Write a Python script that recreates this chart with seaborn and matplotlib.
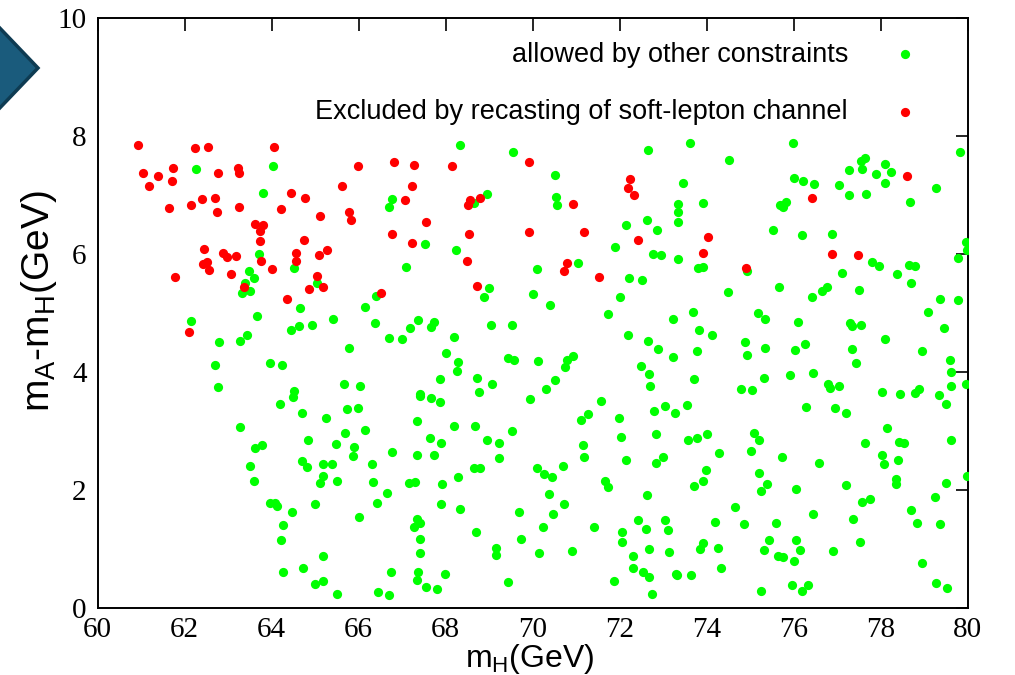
import matplotlib
matplotlib.use("Agg")
import matplotlib.pyplot as plt
import seaborn as sns
import pandas as pd
from matplotlib.patches import Polygon

# ---------------- data ----------------
allowed_mH = [
    62.25, 64.04, 63.81, 63.70, 63.47, 63.60, 63.38, 63.31, 63.50, 64.51, 65.03, 66.40,
    68.32, 69.54, 72.66, 70.51, 70.54, 70.56, 68.94, 68.66, 66.76, 66.70, 67.52, 68.24, 67.09, 70.11,
    71.03, 71.89, 72.14, 72.62, 72.86, 72.22, 72.51, 72.76, 72.96, 73.35, 73.35, 73.33, 73.33, 68.99,
    68.87, 70.01, 72.00,
    73.62, 75.98, 74.52, 79.82, 77.65, 77.55, 77.26, 77.58, 78.11, 78.24, 77.90, 78.10, 77.03, 77.26,
    77.66, 76.00, 76.22, 76.47, 73.46, 73.92, 75.68, 75.82, 75.76, 79.26, 78.67, 75.53, 76.20, 76.88,
    79.95, 79.98, 79.78, 73.81, 73.91, 77.81, 77.95, 77.12, 78.38, 78.66, 78.79, 78.70, 75.66, 74.50,
    76.66, 76.77, 77.50, 76.41, 79.36, 79.78, 74.92,
    62.15, 62.80, 63.27, 63.43, 63.67, 64.66, 64.45, 64.62, 64.93, 65.41, 66.15, 66.37, 65.78, 62.70,
    63.95, 64.24, 62.76, 64.51, 64.49, 64.19, 64.70, 65.25, 65.66, 66.03, 65.74, 65.98, 66.15, 65.69,
    63.27, 64.83, 65.47, 65.89, 63.61, 63.77,
    65.88, 63.49, 63.60, 64.69, 64.81, 65.17, 65.39, 65.19, 65.11, 65.49, 66.31, 66.33, 66.64, 66.41,
    63.96, 64.08, 64.13, 64.47, 64.99, 66.01, 64.27, 64.21, 65.17, 64.27, 64.71, 64.99, 65.19, 65.50,
    66.45,
    70.40, 66.70, 66.99, 67.17, 67.36, 67.74, 67.66, 68.18, 69.05, 69.53, 71.72, 73.22, 72.18, 72.64,
    72.88, 73.23, 68.01, 68.28, 68.25, 67.88, 68.71, 69.07, 68.76, 69.44, 69.56, 70.13, 70.92, 70.80,
    70.75, 70.51, 70.30, 69.93, 72.50, 72.68, 72.70, 71.58, 71.27, 71.10, 71.98, 72.78, 73.04, 73.28,
    72.04, 72.84, 71.16, 67.42, 67.41, 67.66, 67.86, 67.33, 68.20, 68.67, 69.53, 67.63, 67.90, 68.96,
    69.23,
    73.68, 75.19, 75.34, 76.11, 77.29, 77.35, 77.54, 79.08, 79.46, 73.82, 74.12, 74.88, 74.93, 75.34,
    76.02, 76.26, 77.33, 77.44, 78.10, 78.94, 79.59, 79.62, 79.96, 79.62, 73.78, 73.70, 75.32, 75.92,
    76.44, 76.80, 76.83, 77.03, 74.80, 75.04, 78.04, 78.44, 78.80, 78.89, 79.33, 79.49, 73.55, 76.28,
    76.96, 77.20, 78.15, 73.56, 73.78, 74.00, 75.08, 75.20, 77.64, 78.42, 78.54, 79.62,
    66.76, 67.33, 67.74, 69.23, 71.19, 72.14, 73.00, 72.83, 70.10, 70.26, 70.44, 70.70, 68.64, 68.78,
    68.28, 67.91, 67.15, 67.30, 67.89, 68.32, 69.68, 70.37, 70.71, 70.47, 71.67, 71.72, 72.62, 67.33,
    67.42, 67.26, 67.41, 67.41, 68.69, 69.73, 69.16, 69.16, 70.24, 70.14, 70.90, 71.42, 72.05, 72.05,
    72.41, 72.60, 73.03, 73.12, 72.67, 73.13, 72.31, 72.31, 72.53, 72.68, 73.29, 72.74, 71.88, 69.43,
    66.74, 67.36, 67.98, 67.34, 67.55, 67.81, 66.70,
    74.28, 75.02, 75.72, 76.58, 78.04, 78.08, 78.40, 79.99, 73.98, 73.92, 73.70, 75.20, 75.38, 75.24,
    76.06, 77.20, 78.36, 78.36, 79.51, 79.24, 77.58, 77.75, 78.70, 78.83, 79.36, 74.64, 74.18, 74.86,
    75.60, 76.44, 77.36, 75.44, 75.31, 76.06, 76.14, 75.65, 75.76, 76.00, 76.90, 77.52, 73.91, 73.84,
    74.26, 74.32, 73.32, 73.63, 78.96, 79.26, 79.52, 75.24, 75.95, 76.18, 76.32,
]
allowed_dm = [
    7.45, 7.49, 7.04, 6.01, 5.72, 5.59, 5.52, 5.34, 5.37, 5.76, 5.51, 5.30,
    7.85, 7.73, 7.77, 7.35, 6.97, 6.84, 7.03, 6.87, 6.93, 6.81, 6.17, 6.08, 5.79, 5.75,
    5.85, 6.12, 6.49, 6.58, 6.41, 5.59, 5.56, 6.00, 5.99, 6.85, 6.72, 6.54, 5.92, 5.43,
    5.27, 5.32, 5.27,
    7.88, 7.88, 7.59, 7.73, 7.64, 7.58, 7.43, 7.45, 7.53, 7.40, 7.36, 7.21, 7.17, 7.00,
    7.02, 7.29, 7.24, 7.19, 7.21, 6.87, 6.84, 6.89, 6.81, 7.13, 6.88, 6.42, 6.33, 6.35,
    6.21, 6.07, 5.94, 5.76, 5.78, 5.87, 5.80, 5.69, 5.66, 5.82, 5.80, 5.51, 5.44, 5.36,
    5.38, 5.44, 5.39, 5.27, 5.24, 5.23, 5.72,
    4.87, 4.51, 4.53, 4.63, 4.95, 5.09, 4.72, 4.78, 4.81, 4.91, 5.10, 4.84, 4.41, 4.12,
    4.15, 4.12, 3.75, 3.68, 3.58, 3.47, 3.31, 3.22, 3.80, 3.76, 3.38, 3.40, 3.03, 2.97,
    3.08, 2.86, 2.79, 2.74, 2.72, 2.76,
    2.58, 2.41, 2.15, 2.49, 2.40, 2.45, 2.45, 2.24, 2.13, 2.15, 2.45, 2.14, 1.95, 1.78,
    1.79, 1.79, 1.73, 1.63, 1.77, 1.54, 1.41, 1.15, 0.89, 0.62, 0.69, 0.42, 0.46, 0.24,
    0.27,
    5.14, 4.58, 4.56, 4.75, 4.89, 4.86, 4.77, 4.59, 4.80, 4.80, 4.98, 4.90, 4.63, 4.53,
    4.39, 4.26, 4.33, 4.18, 4.02, 3.89, 3.90, 3.81, 3.67, 4.25, 4.21, 4.19, 4.28, 4.20,
    4.09, 3.87, 3.71, 3.54, 4.11, 3.97, 3.76, 3.51, 3.29, 3.19, 3.23, 3.35, 3.43, 3.31,
    2.91, 2.95, 2.77, 3.63, 3.59, 3.57, 3.50, 3.17, 3.09, 3.09, 3.00, 2.89, 2.81, 2.85,
    2.81,
    5.02, 5.01, 4.90, 4.86, 4.84, 4.79, 4.81, 5.03, 4.75, 4.71, 4.64, 4.52, 4.30, 4.41,
    4.38, 4.48, 4.40, 4.15, 4.56, 4.36, 4.21, 4.00, 3.80, 3.76, 4.36, 3.88, 3.91, 3.95,
    3.98, 3.81, 3.73, 3.76, 3.72, 3.70, 3.67, 3.64, 3.65, 3.72, 3.61, 3.47, 3.45, 3.42,
    3.39, 3.31, 3.05, 2.85, 2.88, 2.95, 2.97, 2.86, 2.81, 2.82, 2.80, 2.85,
    2.65, 2.60, 2.60, 2.54, 2.57, 2.52, 2.56, 2.47, 2.38, 2.28, 2.23, 2.41, 2.37, 2.38,
    2.23, 2.11, 2.12, 2.14, 1.76, 1.68, 1.63, 1.94, 1.77, 1.60, 2.15, 2.06, 1.92, 1.51,
    1.45, 1.38, 1.17, 0.93, 1.29, 1.17, 1.03, 0.90, 1.38, 0.93, 0.97, 1.38, 1.29, 1.12,
    1.50, 1.35, 1.49, 1.33, 1.00, 0.96, 0.88, 0.69, 0.61, 0.53, 0.58, 0.24, 0.46, 0.44,
    0.62, 0.62, 0.58, 0.48, 0.36, 0.32, 0.23,
    2.63, 2.66, 2.57, 2.46, 2.59, 2.45, 2.51, 2.25, 2.34, 2.16, 2.08, 2.29, 2.11, 1.99,
    2.03, 2.09, 2.19, 2.11, 2.13, 1.88, 1.81, 1.86, 1.67, 1.44, 1.43, 1.72, 1.46, 1.43,
    1.45, 1.59, 1.51, 1.15, 0.98, 1.16, 0.99, 0.89, 0.87, 0.81, 0.97, 1.13, 1.10, 1.00,
    1.03, 0.69, 0.57, 0.57, 0.77, 0.43, 0.34, 0.30, 0.40, 0.29, 0.40,
]
excluded_mH = [
    60.92, 61.03, 61.19, 61.39, 61.74, 61.71, 61.63, 62.23, 62.53, 62.15, 62.39, 62.70, 62.74, 62.77,
    63.23, 63.25, 63.25, 64.05, 63.62, 63.81, 63.73, 63.73, 64.44, 64.77, 64.21, 65.11, 65.61, 65.99,
    65.78, 65.83, 64.74, 62.45, 62.87, 62.98, 63.17, 62.43, 62.52, 62.57, 63.06, 63.75, 64.01, 64.57,
    64.57, 65.09, 65.28, 65.03, 64.86, 65.17, 61.77, 63.37, 64.35, 66.51,
    66.82, 67.28, 67.22, 67.06, 66.77, 67.55, 67.22, 68.14, 68.56, 68.52, 68.80, 68.54, 68.50, 68.71,
    69.92, 69.92, 70.93, 71.19, 70.78, 70.73, 71.52, 72.24, 72.20, 72.34, 72.42,
    78.60, 76.41, 74.04, 73.91, 74.91, 76.88, 77.48,
    62.09,
]
excluded_dm = [
    7.85, 7.38, 7.16, 7.32, 7.46, 7.25, 6.79, 7.80, 7.82, 6.84, 6.94, 6.96, 6.71, 7.38,
    7.47, 7.37, 6.80, 7.82, 6.51, 6.49, 6.40, 6.23, 7.04, 6.95, 6.77, 6.65, 7.16, 7.49,
    6.72, 6.58, 6.24, 6.09, 6.03, 5.96, 5.97, 5.84, 5.87, 5.74, 5.67, 5.89, 5.75, 6.02,
    5.89, 5.98, 6.07, 5.64, 5.41, 5.44, 5.62, 5.44, 5.24, 5.35,
    7.57, 7.51, 7.15, 6.92, 6.34, 6.55, 6.19, 7.49, 6.92, 6.84, 6.95, 6.34, 5.88, 5.47,
    7.57, 6.37, 6.85, 6.38, 5.85, 5.72, 5.62, 7.28, 7.13, 7.00, 6.24,
    7.33, 6.95, 6.29, 6.03, 5.76, 6.00, 5.98,
    4.69,
]
series_labels = ["allowed by other constraints",
                 "Excluded by recasting of soft-lepton channel"]
x_ticks = [60, 62, 64, 66, 68, 70, 72, 74, 76, 78, 80]
y_ticks = [0, 2, 4, 6, 8, 10]

# ---------------- style ----------------
sns.set_theme(style="white")
plt.rcParams["font.family"] = ["Liberation Sans", "DejaVu Sans"]
plt.rcParams["mathtext.default"] = "regular"
plt.rcParams["text.color"] = "black"
plt.rcParams["axes.labelcolor"] = "black"

fig = plt.figure(figsize=(10.15, 6.75), dpi=100)
ax = fig.add_axes([97.7 / 1015, (675 - 608.3) / 675, 870 / 1015, 590 / 675])

df_allowed = pd.DataFrame({"mH": allowed_mH, "dm": allowed_dm})
df_excl = pd.DataFrame({"mH": excluded_mH, "dm": excluded_dm})

sns.scatterplot(data=df_allowed, x="mH", y="dm", color="#00ff00", s=44,
                linewidth=0, ax=ax, label=series_labels[0], zorder=3)
sns.scatterplot(data=df_excl, x="mH", y="dm", color="#ff0000", s=44,
                linewidth=0, ax=ax, label=series_labels[1], zorder=4)

ax.set_xlim(60, 80)
ax.set_ylim(0, 10)
ax.set_xticks(x_ticks)
ax.set_yticks(y_ticks)
ax.set_xticklabels([str(t) for t in x_ticks])
ax.set_yticklabels([str(t) for t in y_ticks])
ax.tick_params(direction="in", length=9, width=1.2, top=True, right=True,
               colors="black", labelsize=21)
ax.tick_params(axis="x", pad=6)
ax.tick_params(axis="y", pad=8)
for lbl in ax.get_xticklabels() + ax.get_yticklabels():
    lbl.set_fontfamily("Liberation Serif")
for sp in ax.spines.values():
    sp.set_visible(True)
    sp.set_color("black")
    sp.set_linewidth(1.4)

ax.set_xlabel("m$_H$(GeV)", fontsize=23)
ax.set_ylabel("m$_A$-m$_H$(GeV)", fontsize=28)
ax.xaxis.set_label_coords(0.497, -0.057)
ax.yaxis.set_label_coords(-0.045, 0.52)

ax.legend(loc="upper right", bbox_to_anchor=(918.5 / 1015, 1 - 41.5 / 675),
          bbox_transform=fig.transFigure, frameon=False, markerfirst=False,
          fontsize=19.5, handlelength=1.0, handletextpad=1.6, labelspacing=1.18,
          borderpad=0, borderaxespad=0)

# slide decoration (top-left arrow)
W, H = 1015, 675
pts = [(-5, 28 - 5), (38, 68), (-5, 108 + 5)]
poly = Polygon([(x / W, 1 - y / H) for x, y in pts], closed=True,
               transform=fig.transFigure, facecolor="#1a5b7c",
               edgecolor="#0e3b52", linewidth=2.5, clip_on=False)
fig.patches.append(poly)

fig.savefig("out.png", dpi=100)
